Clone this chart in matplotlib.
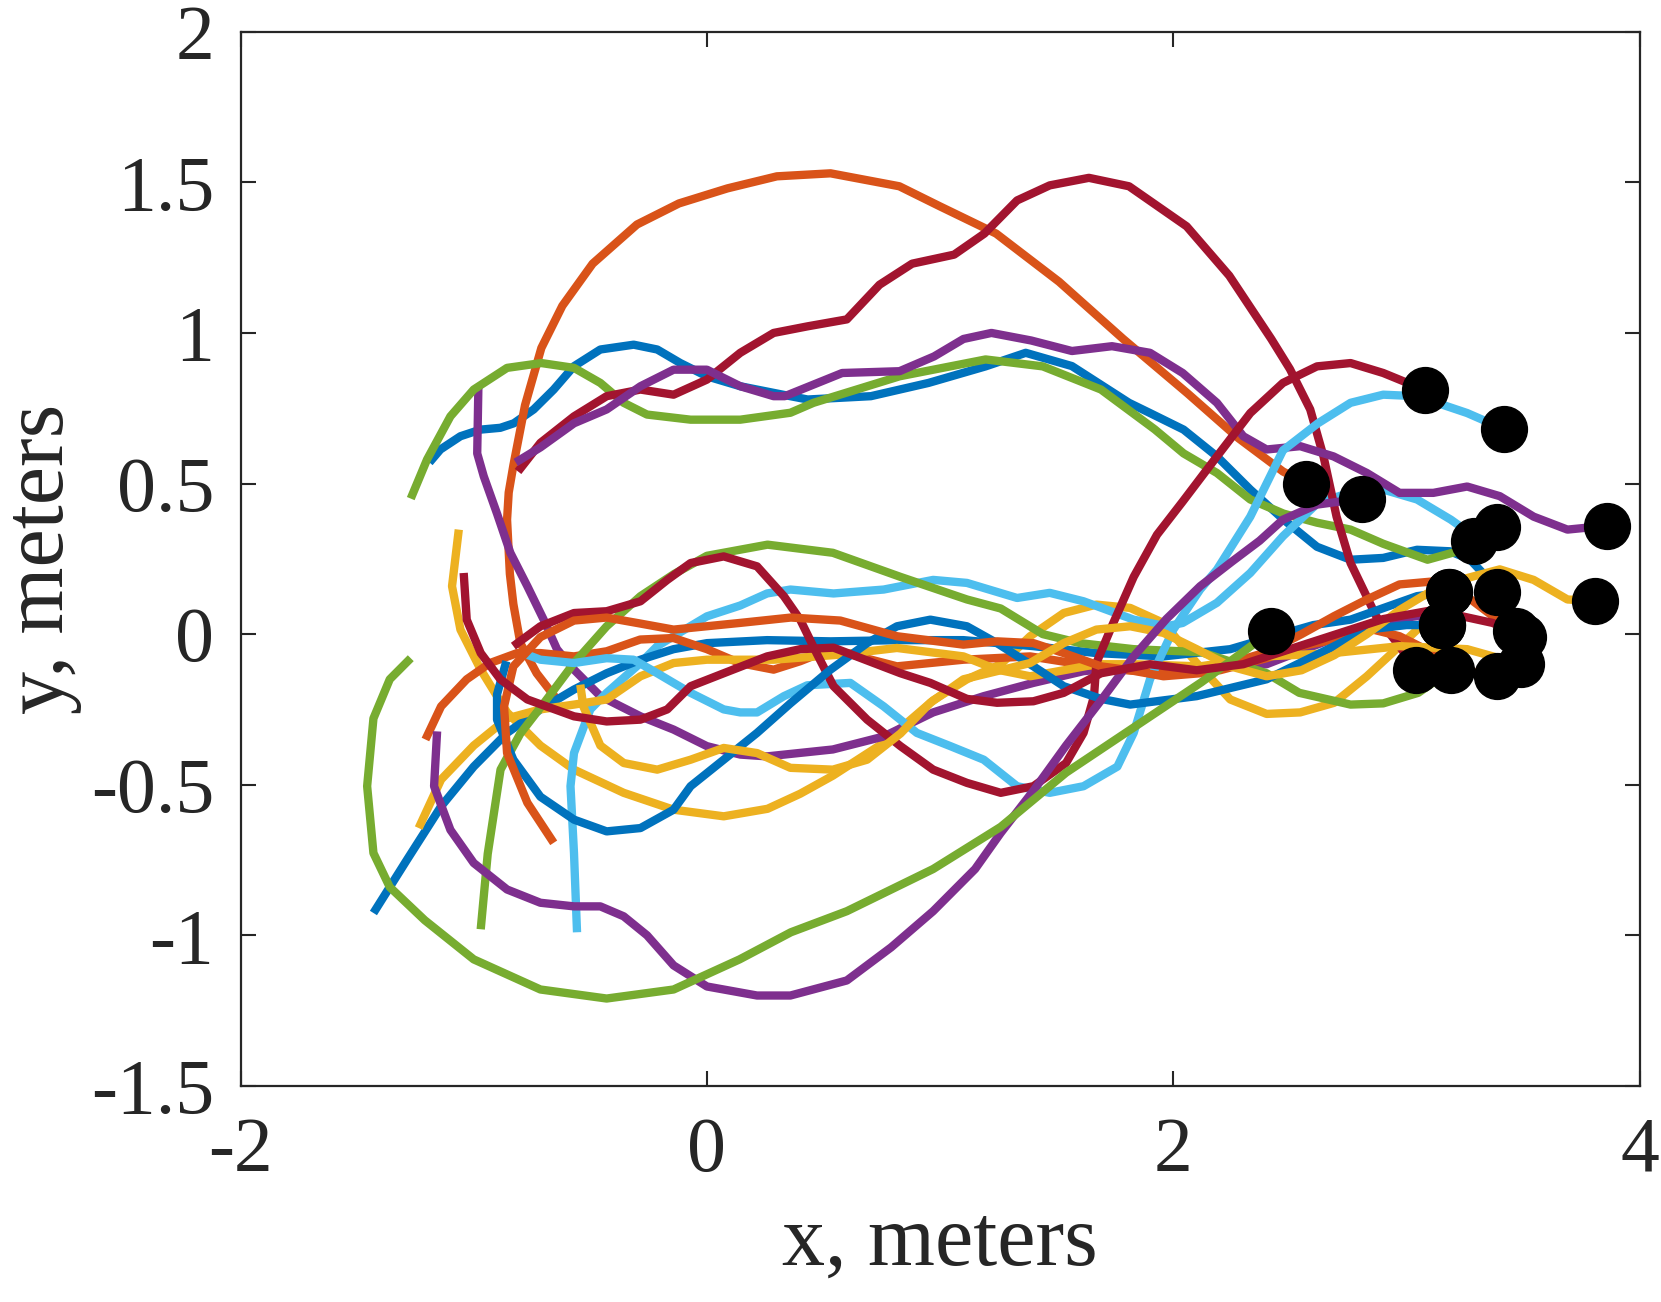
import matplotlib
matplotlib.use("Agg")
import matplotlib.pyplot as plt

# MATLAB default colour order
AZUL = "#0072BD"
NARANJA = "#D95319"
AMARILLO = "#EDB120"
MORADO = "#7E2F8E"
VERDE = "#77AC30"
CIAN = "#4DBEEE"
GRANATE = "#A2142F"
EJES = "#262626"

plt.rcParams.update({
    "font.family": ["Liberation Serif", "DejaVu Serif"],
    "font.size": 56,
    "axes.unicode_minus": False,
})

# --- trayectorias (x, y) en metros ---
azul_1 = [(-1.19, 0.57), (-1.143, 0.613), (-1.057, 0.657), (-0.971, 0.679), (-0.886, 0.685),
          (-0.828, 0.70), (-0.743, 0.746), (-0.657, 0.812), (-0.571, 0.889), (-0.457, 0.945),
          (-0.314, 0.961), (-0.213, 0.945), (-0.114, 0.90), (0.0, 0.856), (0.143, 0.823),
          (0.358, 0.79), (0.432, 0.779), (0.703, 0.79), (0.95, 0.834), (1.195, 0.889),
          (1.367, 0.934), (1.565, 0.89), (1.81, 0.768), (1.90, 0.734), (2.044, 0.679),
          (2.187, 0.59), (2.33, 0.48), (2.473, 0.38), (2.616, 0.29), (2.76, 0.247),
          (2.90, 0.253), (3.045, 0.28), (3.187, 0.275), (3.273, 0.247), (3.33, 0.20), (3.39, 0.14)]
azul_2 = [(-1.43, -0.926), (-1.286, -0.749), (-1.14, -0.572), (-1.0, -0.44), (-0.857, -0.328),
          (-0.714, -0.25), (-0.57, -0.184), (-0.43, -0.13), (-0.285, -0.085), (-0.143, -0.05),
          (0.0, -0.03), (0.258, -0.02), (0.53, -0.024), (0.83, -0.02), (1.10, -0.02),
          (1.40, -0.04), (1.67, -0.063), (1.958, -0.074), (2.244, -0.05), (2.42, -0.01),
          (2.6, 0.03), (2.76, 0.048), (3.045, 0.126), (3.18, 0.14)]
azul_3 = [(-0.86, -0.09), (-0.90, -0.20), (-0.90, -0.284), (-0.83, -0.417), (-0.714, -0.54),
          (-0.57, -0.616), (-0.43, -0.655), (-0.285, -0.644), (-0.143, -0.583), (-0.07, -0.505),
          (0.072, -0.417), (0.215, -0.328), (0.358, -0.23), (0.53, -0.118), (0.687, -0.03),
          (0.815, 0.026), (0.958, 0.048), (1.115, 0.026), (1.244, -0.03), (1.40, -0.107),
          (1.53, -0.173), (1.69, -0.215), (1.815, -0.234), (2.10, -0.206), (2.40, -0.15),
          (2.69, -0.04), (2.83, 0.015), (3.0, 0.03), (3.15, 0.03)]

naranja_1 = [(-0.64, -0.22), (-0.73, -0.13), (-0.80, -0.03), (-0.83, 0.10), (-0.845, 0.20),
             (-0.857, 0.38), (-0.85, 0.47), (-0.83, 0.56), (-0.78, 0.76), (-0.71, 0.95),
             (-0.62, 1.09), (-0.49, 1.23), (-0.30, 1.36), (-0.12, 1.43), (0.088, 1.48),
             (0.30, 1.52), (0.53, 1.53), (0.825, 1.487), (1.0, 1.42), (1.24, 1.33),
             (1.51, 1.17), (1.785, 0.98), (2.06, 0.80), (2.28, 0.65), (2.47, 0.54), (2.57, 0.50)]
naranja_2 = [(-1.207, -0.35), (-1.14, -0.24), (-1.03, -0.15), (-0.93, -0.096), (-0.814, -0.063),
             (-0.714, -0.063), (-0.57, -0.074), (-0.43, -0.057), (-0.286, -0.018), (-0.143, -0.013),
             (0.0, -0.05), (0.14, -0.096), (0.286, -0.118), (0.40, -0.09), (0.53, -0.05),
             (0.815, -0.107), (1.10, -0.085), (1.386, -0.074), (1.6, -0.10), (1.8, -0.12),
             (2.0, -0.13), (2.2, -0.12), (2.4, -0.08), (2.55, -0.04), (2.69, -0.018),
             (2.83, 0.02), (2.97, -0.007), (3.115, -0.063), (3.30, -0.13), (3.39, -0.14)]
naranja_3 = [(-0.657, -0.693), (-0.77, -0.56), (-0.857, -0.395), (-0.87, -0.24), (-0.83, -0.107),
             (-0.714, -0.01), (-0.57, 0.045), (-0.43, 0.055), (-0.285, 0.035), (-0.143, 0.015),
             (0.14, 0.037), (0.36, 0.055), (0.572, 0.045), (0.815, -0.007), (1.10, -0.035),
             (1.244, -0.024), (1.40, -0.03), (1.53, -0.063), (1.69, -0.107), (1.815, -0.12),
             (1.958, -0.14), (2.115, -0.13), (2.244, -0.096), (2.40, -0.06), (2.55, 0.0),
             (2.69, 0.06), (2.83, 0.115), (2.97, 0.165), (3.115, 0.175), (3.25, 0.13),
             (3.39, 0.048), (3.47, 0.01)]

amarillo_1 = [(-1.064, 0.347), (-1.093, 0.159), (-1.057, 0.015), (-0.97, -0.118), (-0.857, -0.26),
              (-0.714, -0.37), (-0.57, -0.45), (-0.357, -0.527), (-0.143, -0.583), (0.072, -0.605),
              (0.26, -0.58), (0.40, -0.53), (0.54, -0.47), (0.76, -0.36), (0.97, -0.22),
              (1.115, -0.15), (1.26, -0.10), (1.386, -0.007), (1.53, 0.07), (1.67, 0.098),
              (1.815, 0.087), (1.958, 0.037), (2.10, -0.096), (2.244, -0.217), (2.40, -0.265),
              (2.544, -0.26), (2.69, -0.228), (2.83, -0.14), (2.97, -0.04), (3.115, 0.065),
              (3.23, 0.18), (3.40, 0.215), (3.545, 0.18), (3.69, 0.115), (3.81, 0.11)]
amarillo_2 = [(-1.236, -0.644), (-1.14, -0.483), (-1.0, -0.37), (-0.857, -0.28), (-0.714, -0.25),
              (-0.57, -0.234), (-0.43, -0.217), (-0.285, -0.14), (-0.143, -0.096), (0.0, -0.085),
              (0.286, -0.085), (0.572, -0.068), (0.815, -0.046), (1.10, -0.074), (1.244, -0.118),
              (1.386, -0.14), (1.53, -0.12), (1.67, -0.10), (1.83, -0.10), (2.115, -0.107),
              (2.40, -0.074), (2.687, -0.063), (2.97, -0.04), (3.26, -0.05), (3.49, -0.10)]
amarillo_3 = [(-0.543, -0.168), (-0.53, -0.24), (-0.457, -0.37), (-0.357, -0.428), (-0.213, -0.45),
              (-0.07, -0.417), (0.072, -0.378), (0.215, -0.395), (0.358, -0.444), (0.54, -0.45),
              (0.687, -0.417), (0.83, -0.33), (0.958, -0.228), (1.10, -0.15), (1.244, -0.123),
              (1.386, -0.096), (1.53, -0.03), (1.67, 0.015), (1.815, 0.026), (1.958, 0.004),
              (2.10, -0.05), (2.244, -0.107), (2.40, -0.14), (2.55, -0.12), (2.69, -0.07),
              (2.83, 0.0), (2.97, 0.08), (3.10, 0.14), (3.18, 0.14)]

morado_1 = [(-0.98, 0.82), (-0.985, 0.60), (-0.957, 0.524), (-0.90, 0.40), (-0.843, 0.27),
            (-0.77, 0.159), (-0.70, 0.048), (-0.643, -0.05), (-0.57, -0.118), (-0.457, -0.206),
            (-0.285, -0.273), (-0.143, -0.317), (0.0, -0.372), (0.143, -0.40), (0.258, -0.406),
            (0.54, -0.383), (0.758, -0.34), (0.97, -0.26), (1.187, -0.206), (1.40, -0.162),
            (1.615, -0.123), (1.83, -0.107), (2.04, -0.118), (2.2, -0.11), (2.4, -0.10),
            (2.6, -0.04), (2.8, 0.02), (2.95, 0.05), (3.05, 0.06), (3.15, 0.03)]
morado_2 = [(-0.82, 0.57), (-0.714, 0.62), (-0.57, 0.70), (-0.43, 0.746), (-0.285, 0.823),
            (-0.143, 0.878), (0.0, 0.878), (0.143, 0.823), (0.286, 0.79), (0.334, 0.79),
            (0.58, 0.867), (0.826, 0.873), (0.974, 0.922), (1.10, 0.98), (1.22, 1.0),
            (1.39, 0.975), (1.565, 0.94), (1.737, 0.956), (1.90, 0.934), (2.04, 0.867),
            (2.187, 0.768), (2.30, 0.657), (2.40, 0.613), (2.544, 0.624), (2.687, 0.59),
            (2.83, 0.535), (2.97, 0.469), (3.115, 0.469), (3.26, 0.49), (3.40, 0.458),
            (3.545, 0.39), (3.69, 0.347), (3.86, 0.36)]
morado_3 = [(-1.157, -0.323), (-1.17, -0.505), (-1.10, -0.65), (-1.0, -0.76), (-0.857, -0.848),
            (-0.714, -0.892), (-0.57, -0.904), (-0.457, -0.904), (-0.357, -0.937), (-0.257, -1.0),
            (-0.143, -1.10), (0.0, -1.17), (0.215, -1.20), (0.358, -1.20), (0.60, -1.15),
            (0.79, -1.04), (0.97, -0.92), (1.15, -0.78), (1.26, -0.66), (1.40, -0.52),
            (1.54, -0.37), (1.69, -0.22), (1.83, -0.074), (1.97, 0.05), (2.115, 0.159),
            (2.25, 0.24), (2.37, 0.31), (2.47, 0.38), (2.616, 0.43), (2.81, 0.45)]

verde_1 = [(-1.27, 0.45), (-1.20, 0.58), (-1.10, 0.723), (-1.0, 0.812), (-0.857, 0.884),
           (-0.71, 0.90), (-0.57, 0.884), (-0.457, 0.834), (-0.357, 0.768), (-0.257, 0.729),
           (-0.07, 0.712), (0.143, 0.712), (0.358, 0.735), (0.457, 0.768), (0.826, 0.856),
           (1.195, 0.912), (1.44, 0.889), (1.69, 0.812), (1.92, 0.68), (2.044, 0.60),
           (2.187, 0.535), (2.33, 0.447), (2.473, 0.40), (2.616, 0.37), (2.76, 0.347),
           (2.90, 0.30), (3.09, 0.247), (3.22, 0.275), (3.29, 0.31)]
verde_2 = [(-0.97, -0.98), (-0.94, -0.73), (-0.885, -0.45), (-0.80, -0.33), (-0.69, -0.22),
           (-0.57, -0.096), (-0.43, 0.026), (-0.285, 0.126), (-0.14, 0.20), (0.0, 0.26),
           (0.26, 0.297), (0.54, 0.27), (0.83, 0.19), (1.115, 0.115), (1.26, 0.085),
           (1.44, 0.0), (1.60, -0.03), (1.83, -0.05), (2.12, -0.06), (2.40, -0.13),
           (2.54, -0.195), (2.76, -0.234), (2.90, -0.23), (3.05, -0.195), (3.19, -0.12)]
verde_3 = [(-1.27, -0.08), (-1.36, -0.15), (-1.43, -0.28), (-1.457, -0.505), (-1.43, -0.727),
           (-1.36, -0.84), (-1.21, -0.95), (-1.0, -1.08), (-0.714, -1.18), (-0.43, -1.21),
           (-0.143, -1.18), (0.14, -1.08), (0.36, -0.99), (0.60, -0.92), (0.97, -0.78),
           (1.26, -0.64), (1.54, -0.46), (1.83, -0.31), (2.12, -0.16), (2.28, -0.07), (2.42, 0.01)]

cian_1 = [(-0.557, -0.99), (-0.57, -0.727), (-0.585, -0.505), (-0.57, -0.395), (-0.50, -0.25),
          (-0.43, -0.195), (-0.285, -0.096), (-0.213, -0.04), (-0.143, -0.007), (0.0, 0.059),
          (0.143, 0.095), (0.258, 0.135), (0.358, 0.148), (0.543, 0.135), (0.758, 0.148),
          (0.97, 0.18), (1.115, 0.17), (1.33, 0.12), (1.47, 0.137), (1.615, 0.109),
          (1.83, 0.048), (1.97, 0.026), (2.04, 0.037), (2.187, 0.104), (2.33, 0.203),
          (2.47, 0.325), (2.62, 0.436), (2.76, 0.47), (2.90, 0.48), (3.045, 0.447),
          (3.19, 0.38), (3.27, 0.336), (3.39, 0.355)]
cian_2 = [(-0.79, -0.063), (-0.714, -0.085), (-0.57, -0.096), (-0.43, -0.08), (-0.314, -0.085),
          (-0.213, -0.13), (-0.143, -0.162), (-0.07, -0.195), (0.072, -0.25), (0.143, -0.26),
          (0.215, -0.26), (0.33, -0.206), (0.43, -0.17), (0.615, -0.162), (0.758, -0.24),
          (0.90, -0.328), (1.044, -0.372), (1.187, -0.417), (1.33, -0.505), (1.47, -0.527),
          (1.615, -0.505), (1.76, -0.44), (1.83, -0.328), (1.90, -0.15), (2.0, 0.015),
          (2.115, 0.148), (2.187, 0.214), (2.33, 0.39), (2.40, 0.50), (2.47, 0.61),
          (2.62, 0.70), (2.76, 0.768), (2.90, 0.795), (3.045, 0.79), (3.26, 0.734), (3.42, 0.68)]

granate_1 = [(-0.81, 0.54), (-0.714, 0.635), (-0.57, 0.723), (-0.43, 0.79), (-0.285, 0.812),
             (-0.143, 0.795), (0.0, 0.845), (0.143, 0.934), (0.286, 1.0), (0.432, 1.022),
             (0.60, 1.045), (0.74, 1.16), (0.88, 1.23), (1.06, 1.26), (1.19, 1.33),
             (1.33, 1.44), (1.47, 1.49), (1.638, 1.515), (1.81, 1.487), (2.057, 1.354),
             (2.24, 1.19), (2.42, 0.98), (2.50, 0.88), (2.587, 0.746), (2.644, 0.59),
             (2.70, 0.39), (2.76, 0.236), (2.87, 0.059), (2.97, -0.04), (3.04, -0.12)]
granate_2 = [(-0.83, -0.04), (-0.714, 0.026), (-0.57, 0.07), (-0.43, 0.076), (-0.285, 0.109),
             (-0.17, 0.18), (-0.07, 0.236), (0.072, 0.258), (0.215, 0.225), (0.33, 0.126),
             (0.40, 0.048), (0.47, -0.063), (0.543, -0.173), (0.687, -0.284), (0.83, -0.372),
             (0.97, -0.45), (1.115, -0.494), (1.26, -0.527), (1.40, -0.505), (1.54, -0.428),
             (1.615, -0.328), (1.66, -0.206), (1.67, -0.096), (1.73, 0.015), (1.83, 0.19),
             (1.93, 0.33), (2.04, 0.44), (2.187, 0.59), (2.33, 0.734), (2.47, 0.834),
             (2.616, 0.889), (2.76, 0.90), (2.90, 0.867), (3.08, 0.81)]
granate_3 = [(-1.043, 0.203), (-1.03, 0.048), (-0.97, -0.063), (-0.886, -0.15), (-0.77, -0.217),
             (-0.57, -0.273), (-0.43, -0.29), (-0.285, -0.284), (-0.17, -0.25), (-0.07, -0.173),
             (0.072, -0.13), (0.258, -0.074), (0.40, -0.05), (0.543, -0.045), (0.83, -0.13),
             (0.958, -0.162), (1.115, -0.215), (1.244, -0.228), (1.40, -0.223), (1.53, -0.195),
             (1.69, -0.13), (1.9, -0.10), (2.1, -0.12), (2.3, -0.10), (2.5, -0.05),
             (2.7, 0.0), (2.9, 0.05), (3.115, 0.08), (3.37, 0.037), (3.5, -0.01)]

trayectorias = [
    (azul_1, AZUL), (naranja_1, NARANJA), (amarillo_1, AMARILLO), (morado_1, MORADO),
    (verde_1, VERDE), (cian_1, CIAN), (granate_1, GRANATE),
    (azul_2, AZUL), (naranja_2, NARANJA), (amarillo_2, AMARILLO), (morado_2, MORADO),
    (verde_2, VERDE), (cian_2, CIAN), (granate_2, GRANATE),
    (azul_3, AZUL), (naranja_3, NARANJA), (amarillo_3, AMARILLO), (morado_3, MORADO),
    (verde_3, VERDE), (granate_3, GRANATE),
]

x_ticks = [-2, 0, 2, 4]
x_tick_labels = ["-2", "0", "2", "4"]
y_ticks = [-1.5, -1, -0.5, 0, 0.5, 1, 1.5, 2]
y_tick_labels = ["-1.5", "-1", "-0.5", "0", "0.5", "1", "1.5", "2"]


def main():
    fig = plt.figure(figsize=(16.61, 13.02), dpi=100)
    ax = fig.add_axes([0.1448, 0.166, 0.8424, 0.8096])

    for pts, color in trayectorias:
        xs = [p[0] for p in pts]
        ys = [p[1] for p in pts]
        ax.plot(xs, ys, color=color, lw=6.0, solid_capstyle="butt",
                solid_joinstyle="round", zorder=2)

    # marcador negro en el punto final de cada trayectoria
    for pts, color in trayectorias:
        ax.plot(pts[-1][0], pts[-1][1], "o", color="black", ms=33, zorder=5)

    ax.set_xlim(-2, 4)
    ax.set_ylim(-1.5, 2)
    ax.set_xticks(x_ticks)
    ax.set_xticklabels(x_tick_labels)
    ax.set_yticks(y_ticks)
    ax.set_yticklabels(y_tick_labels)
    ax.tick_params(direction="in", length=11, width=1.5, top=True, right=True,
                   colors=EJES, labelcolor=EJES)
    ax.tick_params(axis="x", pad=22)
    ax.tick_params(axis="y", pad=19)
    for s in ax.spines.values():
        s.set_linewidth(1.6)
        s.set_color(EJES)

    ax.set_xlabel("x, meters", color=EJES, fontsize=62)
    ax.set_ylabel("y, meters", color=EJES, fontsize=62)
    ax.xaxis.set_label_coords(0.5, -0.112)
    ax.yaxis.set_label_coords(-0.113, 0.5)

    fig.savefig("out.png", dpi=100)
    plt.close(fig)


if __name__ == "__main__":
    main()
